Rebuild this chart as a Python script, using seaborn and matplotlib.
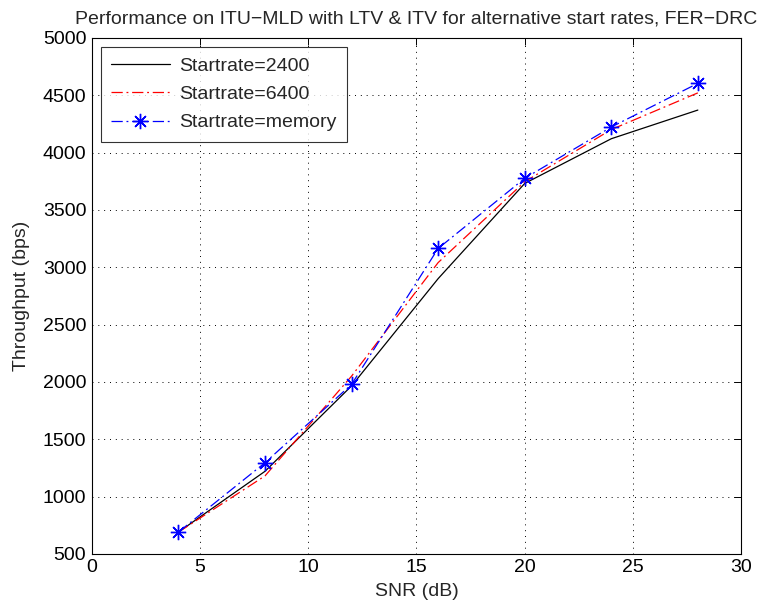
import numpy as np
import pandas as pd
import matplotlib
matplotlib.use("Agg")
import matplotlib.pyplot as plt
import seaborn as sns

snr_db = [4, 8, 12, 16, 20, 24, 28]
rate_2400 = [690, 1220, 1965, 2900, 3730, 4120, 4370]
rate_6400 = [690, 1180, 2050, 3040, 3745, 4200, 4520]
rate_memory = [690, 1295, 1978, 3163, 3775, 4222, 4603]
series_names = ["Startrate=2400", "Startrate=6400", "Startrate=memory"]

sns.set_style("white")
plt.rcParams["font.family"] = ["Liberation Sans", "DejaVu Sans"]
plt.rcParams["axes.unicode_minus"] = True

df = pd.DataFrame({
    "snr": snr_db * 3,
    "thr": rate_2400 + rate_6400 + rate_memory,
    "series": np.repeat(series_names, len(snr_db)),
})

fig = plt.figure(figsize=(7.72, 6.10), dpi=100)
ax = fig.add_axes([0.119, 0.092, 0.841, 0.846])

# asterisk marker: plus and cross overlaid
asterisk = (8, 2, 0)
dashdot = (0, (9, 3, 1.5, 3))
styles = {
    "Startrate=2400": dict(color="black", ls="-", marker=None),
    "Startrate=6400": dict(color="red", ls=dashdot, marker=None),
    "Startrate=memory": dict(color="blue", ls=dashdot, marker=asterisk),
}
for name in series_names:
    st = styles[name]
    sub = df[df["series"] == name]
    sns.lineplot(data=sub, x="snr", y="thr", ax=ax, color=st["color"],
                 linestyle=st["ls"], marker=st["marker"], markersize=11,
                 markeredgewidth=1.0, markeredgecolor=st["color"],
                 linewidth=0.9, label=name)

ax.set_xlim(0, 30)
ax.set_ylim(500, 5000)
ax.set_xticks(np.arange(0, 31, 5))
ax.set_yticks(np.arange(500, 5001, 500))
ax.grid(True, color="black", linestyle=(0, (1, 5)), linewidth=0.7)
ax.tick_params(direction="in", top=True, right=True, length=5, width=0.7,
               labelsize=14, colors="black", pad=4)
for sp in ax.spines.values():
    sp.set_color("black")
    sp.set_linewidth(0.8)

ax.set_xlabel("SNR (dB)", fontsize=14, labelpad=5)
ax.set_ylabel("Throughput (bps)", fontsize=14, labelpad=9)
ax.set_title("Performance on ITU\u2212MLD with LTV & ITV for alternative start rates, FER\u2212DRC",
             fontsize=14, pad=10)

leg = ax.legend(loc="upper left", fontsize=14, frameon=True, fancybox=False,
                edgecolor="black", borderaxespad=0.45, handlelength=3.0,
                labelspacing=0.55, borderpad=0.55, handletextpad=0.5)
leg.get_frame().set_linewidth(0.8)

fig.savefig("out.png", dpi=100)
